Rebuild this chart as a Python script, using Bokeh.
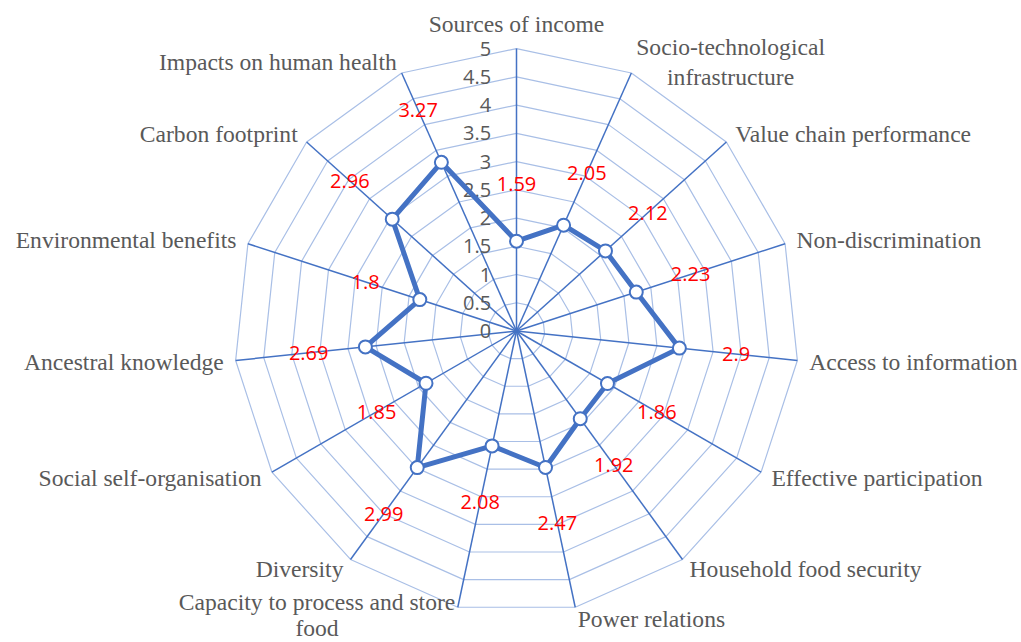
import math
from bokeh.plotting import figure
from bokeh.models import Range1d
from bokeh.core.properties import value
from bokeh.embed import file_html
from bokeh.resources import INLINE

# ---- data ----
categories = [
    "Sources of income",
    "Socio-technological\ninfrastructure",
    "Value chain performance",
    "Non-discrimination",
    "Access to information",
    "Effective participation",
    "Household food security",
    "Power relations",
    "Capacity to process and store\nfood",
    "Diversity",
    "Social self-organisation",
    "Ancestral knowledge",
    "Environmental benefits",
    "Carbon footprint",
    "Impacts on human health",
]
values = [1.59, 2.05, 2.12, 2.23, 2.9, 1.86, 1.92, 2.47, 2.08, 2.99, 1.85, 2.69, 1.8, 2.96, 3.27]
value_labels = ["1.59", "2.05", "2.12", "2.23", "2.9", "1.86", "1.92", "2.47", "2.08", "2.99",
                "1.85", "2.69", "1.8", "2.96", "3.27"]
tick_values = [0, 0.5, 1, 1.5, 2, 2.5, 3, 3.5, 4, 4.5, 5]
tick_labels = ["0", "0.5", "1", "1.5", "2", "2.5", "3", "3.5", "4", "4.5", "5"]
max_value = 5

# ---- layout ----
W, H = 1021, 642
S = 56.48            # pixels per unit
cx, cy = 516, 330.5  # centre in figure pixels
p = figure(width=W, height=H,
           x_range=Range1d(-cx / S, (W - cx) / S),
           y_range=Range1d(-(H - cy) / S, cy / S),
           output_backend="svg", toolbar_location=None, min_border=0)
p.axis.visible = False
p.grid.visible = False
p.outline_line_color = None
p.background_fill_color = "white"

n = len(categories)
ang = [math.pi / 2 - 2 * math.pi * i / n for i in range(n)]
cosv = [math.cos(a) for a in ang]
sinv = [math.sin(a) for a in ang]

# rings
ring_xs, ring_ys = [], []
for lv in tick_values[1:]:
    ring_xs.append([lv * c for c in cosv] + [lv * cosv[0]])
    ring_ys.append([lv * s for s in sinv] + [lv * sinv[0]])
p.multi_line(ring_xs, ring_ys, line_color="#A9BFE6", line_width=1.2)

# spokes
p.segment(x0=[0] * n, y0=[0] * n,
          x1=[max_value * c for c in cosv], y1=[max_value * s for s in sinv],
          line_color="#4472C4", line_width=1.5)

# tick labels
tick_dx = -25.3 / S
p.text(x=[tick_dx] * len(tick_values), y=tick_values, text=tick_labels,
       text_align="right", text_baseline="middle",
       text_font=value("Open Sans"), text_font_size="20px", text_color="#595959")

# series
sx = [v * c for v, c in zip(values, cosv)]
sy = [v * s for v, s in zip(values, sinv)]
p.line(sx + [sx[0]], sy + [sy[0]], line_color="#4472C4", line_width=5, line_join="round")
p.scatter(sx, sy, size=13, marker="circle", fill_color="white",
          line_color="#4472C4", line_width=2)

# data labels
lab_r = [v + 1.01 for v in values]
p.text(x=[r * c for r, c in zip(lab_r, cosv)], y=[r * s for r, s in zip(lab_r, sinv)],
       text=value_labels, text_align="center", text_baseline="middle",
       text_font=value("Open Sans"), text_font_size="20px", text_color="#FF0000")

# category labels
gap = 12 / S
for cat, c, s in zip(categories, cosv, sinv):
    if c > 0.01:
        anchor = "center_left"
    elif c < -0.01:
        anchor = "center_right"
    else:
        anchor = "bottom_center"
    lx = (max_value + gap) * c
    ly = (max_value + gap) * s
    lh = 1.12
    if s < -0.9 and "\n" in cat:
        lh = 1.0           # keep the wrapped bottom label inside the page
        ly += 4 / S
    p.text(x=[lx], y=[ly], text=[cat],
           anchor=anchor, text_align="center", text_line_height=lh,
           text_font=value("Liberation Serif"), text_font_size="23.6px",
           text_color="#595959")

open("out.html", "w").write(file_html(p, INLINE))
